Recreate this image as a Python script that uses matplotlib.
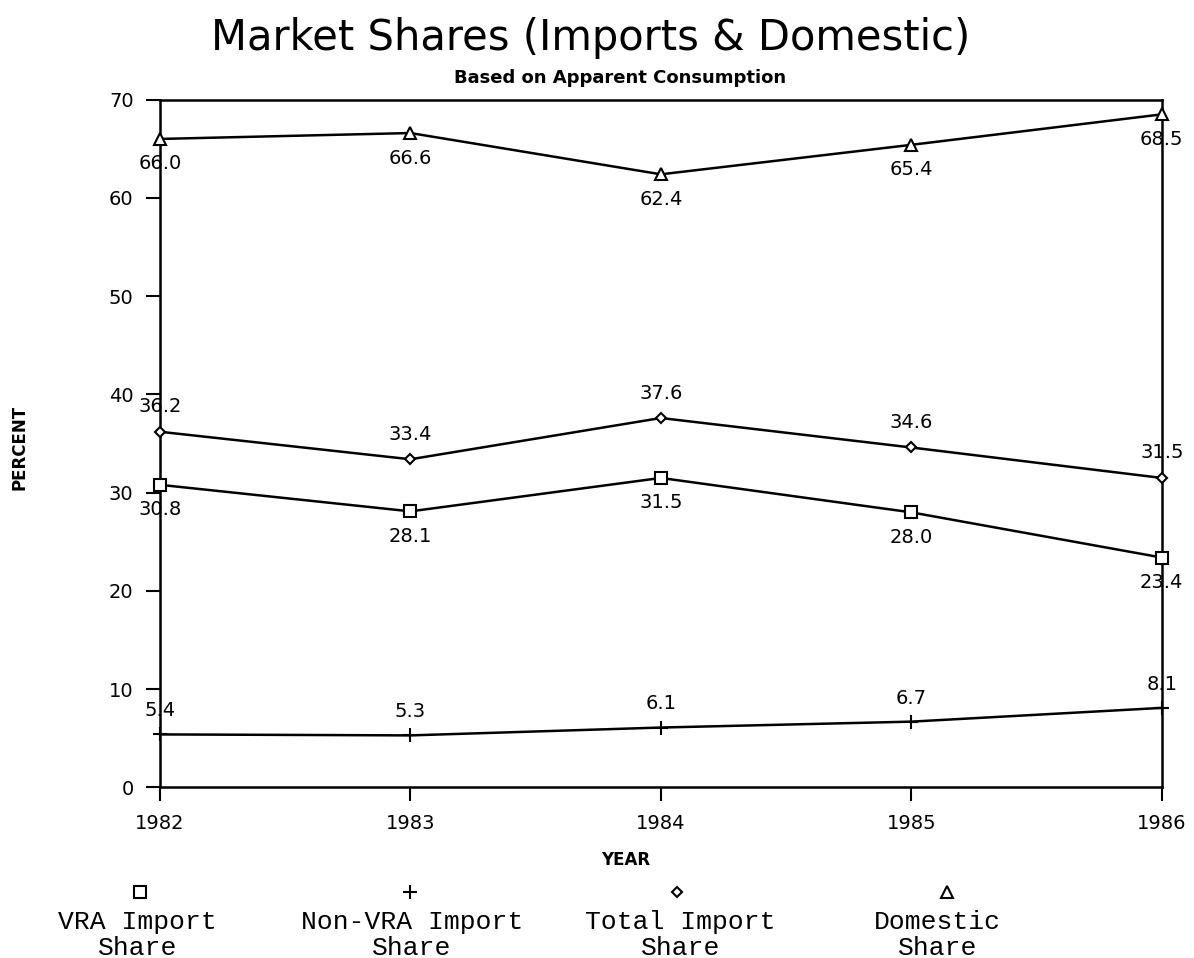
import matplotlib
matplotlib.use("Agg")
import matplotlib.pyplot as plt
from matplotlib.lines import Line2D

years = [1982, 1983, 1984, 1985, 1986]
vra_share = [30.8, 28.1, 31.5, 28.0, 23.4]
non_vra_share = [5.4, 5.3, 6.1, 6.7, 8.1]
total_import_share = [36.2, 33.4, 37.6, 34.6, 31.5]
domestic_share = [66.0, 66.6, 62.4, 65.4, 68.5]

series_names = ["VRA Import\nShare", "Non-VRA Import\nShare", "Total Import\nShare", "Domestic\nShare"]

fig = plt.figure(figsize=(11.94, 9.58), dpi=100)
ax = fig.add_axes([0.134, 0.178, 0.839, 0.718])

# (values, marker, marker size, label offset in points)
series = [
    (vra_share, "s", 8, -18),
    (non_vra_share, "+", 10, 17),
    (total_import_share, "D", 5, 18),
    (domestic_share, "^", 8, -18),
]

for vals, mk, ms, off in series:
    ax.plot(years, vals, color="black", lw=1.8, marker=mk, ms=ms,
            mfc="white", mec="black", mew=1.5, clip_on=False, zorder=3)
    for x, y in zip(years, vals):
        ax.annotate(f"{y:.1f}", (x, y), xytext=(0, off),
                    textcoords="offset points", ha="center", va="center",
                    fontsize=14)

ax.set_xlim(1982, 1986)
ax.set_ylim(0, 70)
ax.set_xticks(years)
ax.set_yticks(range(0, 71, 10))
ax.tick_params(direction="out", length=10, width=1.5, labelsize=14, pad=9)
for sp in ax.spines.values():
    sp.set_linewidth(1.8)

fig.text(0.495, 0.96, "Market Shares (Imports & Domestic)", ha="center",
         va="center", fontsize=30)
fig.text(0.519, 0.919, "Based on Apparent Consumption", ha="center",
         va="center", fontsize=13, fontweight="bold")
fig.text(0.016, 0.533, "PERCENT", rotation=90, ha="center", va="center",
         fontsize=12, fontweight="bold")
fig.text(0.524, 0.102, "YEAR", ha="center", va="center", fontsize=12,
         fontweight="bold")

# legend: marker above two-line label
leg_x = [0.117, 0.343, 0.567, 0.793]
leg_text_x = [0.115, 0.345, 0.570, 0.785]
for (vals, mk, ms, off), mx, tx, name in zip(series, leg_x, leg_text_x, series_names):
    fig.add_artist(Line2D([mx], [0.069], marker=mk, ms=ms, mfc="white",
                          mec="black", mew=1.5, color="black",
                          transform=fig.transFigure))
    fig.text(tx, 0.024, name, ha="center", va="center", fontsize=19,
             family="Liberation Mono", linespacing=1.12)

fig.savefig("out.png", dpi=100)
